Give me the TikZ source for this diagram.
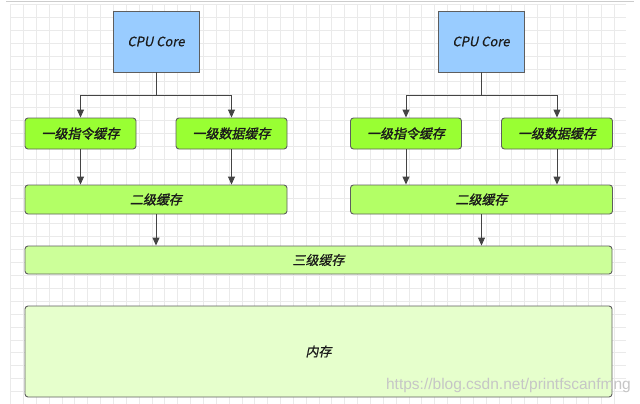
\documentclass[tikz,border=0pt]{standalone}
\usepackage{fontspec}
\usetikzlibrary{arrows.meta,calc}
\newfontfamily\cjk{Noto Sans CJK SC}[FakeSlant=0.2,FakeBold=0.5]
\newfontfamily\cjkb{Noto Sans CJK SC}[FakeSlant=0.2,FakeBold=1.6]
\newfontfamily\wmfont{Liberation Sans}
\definecolor{cpublue}{HTML}{99CCFF}
\definecolor{lone}{HTML}{99FF33}
\definecolor{ltwo}{HTML}{B3FF66}
\definecolor{lthree}{HTML}{CCFF99}
\definecolor{memc}{HTML}{E6FFCC}
\definecolor{edge}{HTML}{5E5E5E}
\definecolor{arrc}{HTML}{444444}
\definecolor{gridc}{HTML}{EAEAEA}
\definecolor{txt}{HTML}{1A1A1A}
\begin{document}
\begin{tikzpicture}[x=1pt,y=-1pt,
  boxbase/.style={draw=edge,line width=0.9pt,inner sep=0pt,text=txt},
  cpubox/.style={boxbase,fill=cpublue,minimum width=86pt,minimum height=61pt,font=\cjk\fontsize{13}{15}\selectfont},
  lonebox/.style={boxbase,rounded corners=3pt,fill=lone,minimum width=111pt,minimum height=31pt,font=\cjkb\fontsize{13}{15}\selectfont},
  ltwobox/.style={boxbase,rounded corners=3pt,fill=ltwo,minimum width=262pt,minimum height=29pt,font=\cjkb\fontsize{13}{15}\selectfont},
  lthreebox/.style={boxbase,rounded corners=3pt,fill=lthree,minimum width=587pt,minimum height=28pt,font=\cjk\fontsize{13}{15}\selectfont},
  membox/.style={boxbase,rounded corners=3pt,fill=memc,minimum width=587pt,minimum height=91pt,font=\cjk\fontsize{13}{15}\selectfont},
  conn/.style={draw=arrc,line width=0.9pt},
  arr/.style={conn,-{Triangle[length=8pt,width=7pt]}}
]
\useasboundingbox (0,0) rectangle (640,404);
\fill[white] (0,0) rectangle (640,404);
% grid
\foreach \i in {0,...,47} {\draw[gridc,line width=0.6pt] ({10.5+12.85*\i},5) -- ({10.5+12.85*\i},404);}
\foreach \j in {0,...,30} {\draw[gridc,line width=0.6pt] (10,{4.4+12.9*\j}) -- (626,{4.4+12.9*\j});}
\draw[gray!40,line width=1pt] (6,1.5) -- (634,1.5);

% left core
\node[cpubox] (cpuL) at (156,41.5) {CPU Core};
\node[lonebox] (l1iL) at (80.5,133.5) {一级指令缓存};
\node[lonebox] (l1dL) at (231.5,133.5) {一级数据缓存};
\node[ltwobox] (l2L) at (156,199.5) {二级缓存};
% right core
\node[cpubox] (cpuR) at (481,41.5) {CPU Core};
\node[lonebox] (l1iR) at (406,133.5) {一级指令缓存};
\node[lonebox] (l1dR) at (557,133.5) {一级数据缓存};
\node[ltwobox] (l2R) at (481.5,199.5) {二级缓存};
% shared
\node[lthreebox] (l3) at (318.5,260) {三级缓存};
\node[membox] (mem) at (318.5,351.5) {内存};

\coordinate (bL) at (156,95);
\coordinate (bR) at (481,95);
\draw[conn] (cpuL.south) -- (bL);
\draw[arr] (bL) -| (l1iL.north);
\draw[arr] (bL) -| (l1dL.north);
\draw[conn] (cpuR.south) -- (bR);
\draw[arr] (bR) -| (l1iR.north);
\draw[arr] (bR) -| (l1dR.north);
\draw[arr] (l1iL.south) -- (l1iL.south |- l2L.north);
\draw[arr] (l1dL.south) -- (l1dL.south |- l2L.north);
\draw[arr] (l1iR.south) -- (l1iR.south |- l2R.north);
\draw[arr] (l1dR.south) -- (l1dR.south |- l2R.north);
\draw[arr] (l2L.south) -- (l2L.south |- l3.north);
\draw[arr] (l2R.south) -- (l2R.south |- l3.north);

\node[text=gray!45,font=\wmfont\fontsize{15.5}{17}\selectfont,anchor=east,inner sep=0pt] (wm) at (631,385) {https://blog.csdn.net/printfscanfmng};
\end{tikzpicture}
\end{document}
